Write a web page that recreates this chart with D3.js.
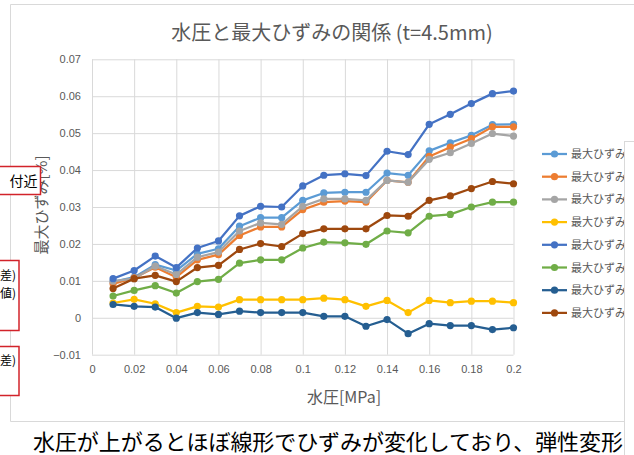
<!DOCTYPE html>
<html>
<head>
<meta charset="utf-8">
<script src="https://cdn.jsdelivr.net/npm/d3@7"></script>
<style>
  html, body { margin: 0; padding: 0; background: #fff; }
  svg { display: block; }
</style>
</head>
<body>
<svg id="chart" width="634" height="455"></svg>
<script>
// Water pressure (MPa) at each measurement step
const pressure = [0.01, 0.02, 0.03, 0.04, 0.05, 0.06, 0.07, 0.08, 0.09, 0.10,
                  0.11, 0.12, 0.13, 0.14, 0.15, 0.16, 0.17, 0.18, 0.19, 0.20];

// Maximum strain [%] per gauge
const strain1 = [0.0097, 0.0110, 0.0144, 0.0128, 0.0173, 0.0187, 0.0248, 0.0271, 0.0271, 0.0318,
                 0.0338, 0.0340, 0.0340, 0.0392, 0.0386, 0.0452, 0.0474, 0.0494, 0.0523, 0.0524];
const strain2 = [0.0092, 0.0108, 0.0137, 0.0110, 0.0157, 0.0171, 0.0223, 0.0246, 0.0246, 0.0293,
                 0.0313, 0.0316, 0.0313, 0.0372, 0.0367, 0.0437, 0.0462, 0.0485, 0.0517, 0.0517];
const strain3 = [0.0099, 0.0106, 0.0140, 0.0117, 0.0164, 0.0178, 0.0235, 0.0257, 0.0253, 0.0302,
                 0.0322, 0.0322, 0.0318, 0.0372, 0.0367, 0.0429, 0.0447, 0.0472, 0.0499, 0.0492];
const strain4 = [0.0040, 0.0050, 0.0038, 0.0014, 0.0031, 0.0029, 0.0049, 0.0049, 0.0049, 0.0049,
                 0.0053, 0.0049, 0.0031, 0.0047, 0.0014, 0.0047, 0.0041, 0.0045, 0.0045, 0.0041];
const strain5 = [0.0106, 0.0128, 0.0167, 0.0136, 0.0189, 0.0208, 0.0276, 0.0302, 0.0300, 0.0357,
                 0.0386, 0.0390, 0.0385, 0.0451, 0.0442, 0.0524, 0.0551, 0.0580, 0.0607, 0.0614];
const strain6 = [0.0059, 0.0074, 0.0087, 0.0067, 0.0098, 0.0104, 0.0148, 0.0157, 0.0157, 0.0189,
                 0.0205, 0.0203, 0.0199, 0.0235, 0.0230, 0.0275, 0.0280, 0.0300, 0.0313, 0.0313];
const strain7 = [0.0036, 0.0031, 0.0029, -0.0001, 0.0014, 0.0009, 0.0018, 0.0014, 0.0014, 0.0014,
                 0.0004, 0.0004, -0.0023, -0.0005, -0.0043, -0.0016, -0.0021, -0.0021, -0.0032, -0.0027];
const strain8 = [0.0079, 0.0106, 0.0115, 0.0098, 0.0136, 0.0142, 0.0185, 0.0201, 0.0193, 0.0228,
                 0.0241, 0.0241, 0.0241, 0.0277, 0.0275, 0.0318, 0.0330, 0.0350, 0.0369, 0.0363];

const seriesNames = ["最大ひずみ1", "最大ひずみ2", "最大ひずみ3", "最大ひずみ4",
                     "最大ひずみ5", "最大ひずみ6", "最大ひずみ7", "最大ひずみ8"];
const seriesColors = ["#5B9BD5", "#ED7D31", "#A5A5A5", "#FFC000",
                      "#4472C4", "#70AD47", "#255E91", "#9E480E"];
const seriesValues = [strain1, strain2, strain3, strain4, strain5, strain6, strain7, strain8];

const xTicks = [0, 0.02, 0.04, 0.06, 0.08, 0.1, 0.12, 0.14, 0.16, 0.18, 0.2];
const yTicks = [-0.01, 0, 0.01, 0.02, 0.03, 0.04, 0.05, 0.06, 0.07];

const titleText = "水圧と最大ひずみの関係 (t=4.5mm)";
const xTitle = "水圧[MPa]";
const yTitle = "最大ひずみ[%]";
const noteText = "水圧が上がるとほぼ線形でひずみが変化しており、弾性変形";

const svg = d3.select("#chart");
const cjk = "'Noto Sans CJK JP', 'Liberation Sans', sans-serif";
const num = "'Liberation Sans', 'Noto Sans CJK JP', sans-serif";
const textGray = "#595959";
const gridGray = "#d9d9d9";

// Chart frame
svg.append("path")
  .attr("d", "M634,4.5 H10.5 V421.5 H634")
  .attr("fill", "none").attr("stroke", gridGray).attr("stroke-width", 1);

const x = d3.scaleLinear().domain([0, 0.2]).range([92, 513.5]);
const y = d3.scaleLinear().domain([-0.01, 0.07]).range([354.7, 59.3]);

// Gridlines
const grid = svg.append("g");
grid.append("g")
  .attr("transform", `translate(0,${y(-0.01)})`)
  .call(d3.axisBottom(x).tickValues(xTicks).tickSize(-(y(-0.01) - y(0.07))).tickFormat(""))
  .call(g => g.select(".domain").remove())
  .call(g => g.selectAll("line").attr("stroke", gridGray).attr("stroke-width", 1));
grid.append("g")
  .attr("transform", `translate(${x(0)},0)`)
  .call(d3.axisLeft(y).tickValues(yTicks).tickSize(-(x(0.2) - x(0))).tickFormat(""))
  .call(g => g.select(".domain").remove())
  .call(g => g.selectAll("line").attr("stroke", gridGray).attr("stroke-width", 1));

// Tick labels
const fmt = d => d3.format("~g")(+d.toFixed(2));
const xAxis = svg.append("g")
  .attr("transform", `translate(0,${y(-0.01)})`)
  .call(d3.axisBottom(x).tickValues(xTicks).tickSize(0).tickPadding(11).tickFormat(fmt));
xAxis.select(".domain").remove();
xAxis.selectAll("text").attr("font-family", num).attr("font-size", 11).attr("fill", textGray);

const yAxis = svg.append("g")
  .attr("transform", `translate(81,0)`)
  .call(d3.axisLeft(y).tickValues(yTicks).tickSize(0).tickPadding(0).tickFormat(fmt));
yAxis.select(".domain").remove();
yAxis.selectAll("text").attr("font-family", num).attr("font-size", 11).attr("fill", textGray);

// Series
const line = d3.line().x((d, i) => x(pressure[i])).y(d => y(d));
seriesValues.forEach((vals, k) => {
  const g = svg.append("g");
  g.append("path").datum(vals)
    .attr("d", line)
    .attr("fill", "none")
    .attr("stroke", seriesColors[k])
    .attr("stroke-width", 2.25)
    .attr("stroke-linejoin", "round");
  g.selectAll("circle").data(vals).join("circle")
    .attr("cx", (d, i) => x(pressure[i]))
    .attr("cy", d => y(d))
    .attr("r", 3.6)
    .attr("fill", seriesColors[k]);
});

// Titles
svg.append("text")
  .attr("x", 332).attr("y", 40)
  .attr("text-anchor", "middle")
  .attr("font-family", cjk).attr("font-size", 20).attr("fill", textGray)
  .text(titleText);

svg.append("text")
  .attr("x", 344).attr("y", 403)
  .attr("text-anchor", "middle")
  .attr("font-family", cjk).attr("font-size", 16).attr("fill", textGray)
  .text(xTitle);

svg.append("text")
  .attr("transform", `translate(47,205) rotate(-90)`)
  .attr("text-anchor", "middle")
  .attr("font-family", cjk).attr("font-size", 15).attr("fill", textGray)
  .text(yTitle);

// Legend
const legend = svg.append("g");
seriesNames.forEach((name, k) => {
  const ly = 154 + k * 22.7;
  legend.append("line")
    .attr("x1", 542).attr("x2", 567).attr("y1", ly).attr("y2", ly)
    .attr("stroke", seriesColors[k]).attr("stroke-width", 2.25);
  legend.append("circle")
    .attr("cx", 554.5).attr("cy", ly).attr("r", 3.6)
    .attr("fill", seriesColors[k]);
  legend.append("text")
    .attr("x", 571).attr("y", ly + 4)
    .attr("font-family", cjk).attr("font-size", 11).attr("fill", textGray)
    .text(name);
});

// Panel overlapping the right edge
svg.append("rect")
  .attr("x", 624.5).attr("y", 141.5).attr("width", 20).attr("height", 320)
  .attr("fill", "#fff").attr("stroke", gridGray).attr("stroke-width", 1);

// Callout boxes on the left edge
const callouts = svg.append("g");
function callout(x0, y0, x1, y1, lines, ys, size) {
  callouts.append("rect")
    .attr("x", x0).attr("y", y0).attr("width", x1 - x0).attr("height", y1 - y0)
    .attr("fill", "#fff").attr("stroke", "#d2232a").attr("stroke-width", 1.5);
  lines.forEach((t, i) => {
    callouts.append("text")
      .attr("x", x1 - 3).attr("y", ys[i])
      .attr("text-anchor", "end")
      .attr("font-family", cjk).attr("font-size", size).attr("fill", "#000")
      .text(t);
  });
}
callout(-5, 166.5, 40.5, 194.5, ["付近"], [186], 14);
callout(-5, 260.5, 19, 330.5, ["差)", "値)"], [280, 298], 12);
callout(-5, 346.5, 19, 395.5, ["差)"], [365], 12);

// Note below the chart
svg.append("text")
  .attr("x", 33).attr("y", 450)
  .attr("font-family", cjk).attr("font-size", 22).attr("fill", "#000")
  .attr("textLength", 590).attr("lengthAdjust", "spacing")
  .text(noteText);
</script>
</body>
</html>
